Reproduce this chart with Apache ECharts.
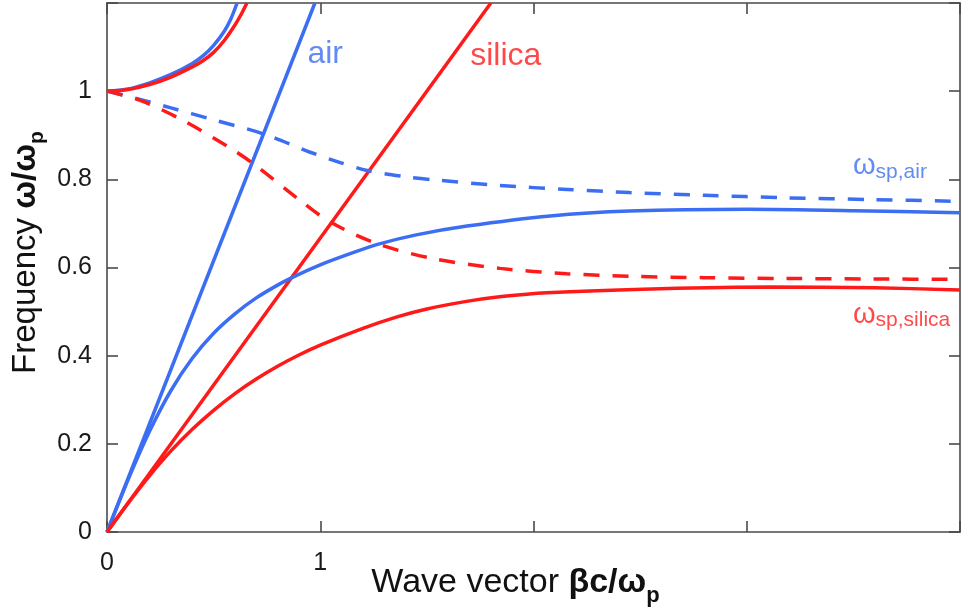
<!DOCTYPE html>
<html>
<head>
<meta charset="utf-8">
<script src="https://cdn.jsdelivr.net/npm/echarts@6/dist/echarts.min.js"></script>
<style>
  html, body { margin: 0; padding: 0; background: #fff; }
  #chart { width: 964px; height: 612px; }
</style>
</head>
<body>
<div id="chart"></div>
<script>
// Axis ticks and their printed labels
const xTickLabels = ['0', '1', '', '', ''];
const yTickLabels = ['0', '0.2', '0.4', '0.6', '0.8', '1', ''];

// Light lines (omega = beta c / n)
const airLight = [[0, 0], [0.975, 1.2]];
const silicaLight = [[0, 0], [1.8, 1.2]];

// Upper (bulk-like) branches above omega_p
const airUpper = [[0, 1.0], [0.1, 1.005], [0.2, 1.019], [0.3, 1.038], [0.4, 1.063], [0.45, 1.08],
  [0.5, 1.104], [0.55, 1.136], [0.58, 1.163], [0.61, 1.2]];
const silicaUpper = [[0, 1.0], [0.1, 1.004], [0.2, 1.015], [0.3, 1.032], [0.4, 1.055], [0.45, 1.069],
  [0.5, 1.088], [0.55, 1.115], [0.6, 1.15], [0.63, 1.175], [0.656, 1.2]];

// Surface plasmon branches (solid)
const airSpp = [[0, 0], [0.1, 0.12], [0.2, 0.229], [0.3, 0.321], [0.4, 0.394], [0.5, 0.451], [0.6, 0.495],
  [0.7, 0.531], [0.8, 0.56], [0.867, 0.577], [1.0, 0.606], [1.15, 0.633], [1.273, 0.653], [1.45, 0.674],
  [1.688, 0.694], [2.078, 0.717], [2.45, 0.728], [3.0, 0.732], [3.5, 0.729], [4.0, 0.724]];
const silicaSpp = [[0, 0], [0.1, 0.066], [0.2, 0.128], [0.3, 0.184], [0.4, 0.233], [0.5, 0.276],
  [0.6, 0.314], [0.7, 0.347], [0.8, 0.376], [0.9, 0.4015], [1.0, 0.424], [1.2, 0.462], [1.36, 0.488],
  [1.5, 0.506], [1.672, 0.522], [1.85, 0.534], [2.063, 0.543], [2.594, 0.552], [3.11, 0.556],
  [3.6, 0.554], [4.0, 0.549]];

// Quasi-static branches (dashed)
const airQs = [[0, 1.0], [0.15, 0.982], [0.3, 0.962], [0.5, 0.935], [0.734, 0.903], [0.95, 0.862],
  [1.094, 0.838], [1.22, 0.82], [1.4, 0.806], [1.53, 0.799], [1.84, 0.786], [2.16, 0.777],
  [2.45, 0.77], [2.8, 0.764], [3.19, 0.758], [3.6, 0.754], [4.0, 0.75]];
const silicaQs = [[0, 1.0], [0.156, 0.979], [0.359, 0.933], [0.594, 0.866], [0.687, 0.835], [0.906, 0.752],
  [1.047, 0.703], [1.266, 0.654], [1.531, 0.62], [1.844, 0.598], [2.156, 0.586], [2.453, 0.58],
  [2.8, 0.577], [3.19, 0.575], [3.6, 0.574], [4.0, 0.573]];

// Curve annotations: left edge anchor in data units
const annoX = [0.94, 1.703, 3.498, 3.498];
const annoY = [1.084, 1.08, 0.83, 0.493];
const annoText = ['air', 'silica', '{w|ω}{s|sp,air}', '{w|ω}{s|sp,silica}'];

const BLUE = '#3b6ef2';
const RED = '#ff1a1a';
const annoColor = [BLUE, RED, BLUE, RED];
const FONT = 'Liberation Sans, Arial, sans-serif';
const AXIS = '#4a4a4a';

const chart = echarts.init(document.getElementById('chart'), null, { renderer: 'canvas' });

function line(data, color, dashed) {
  return {
    type: 'line',
    data: data,
    xAxisIndex: 0,
    yAxisIndex: 0,
    showSymbol: false,
    symbol: 'none',
    smooth: 0.3,
    clip: true,
    silent: true,
    lineStyle: { color: color, width: 3.5, type: dashed ? [16, 13] : 'solid', cap: 'butt' },
    z: 3
  };
}

const frameAxisLine = { show: true, onZero: false, lineStyle: { color: AXIS, width: 1.6 } };
const frameTick = { show: true, inside: true, length: 11, lineStyle: { color: AXIS, width: 1.6 } };

const option = {
  backgroundColor: '#ffffff',
  animation: false,
  grid: { left: 107, right: 4, top: 3, bottom: 80, containLabel: false, outerBoundsMode: 'none' },
  xAxis: [
    {
      type: 'value', position: 'bottom', min: 0, max: 4, interval: 1,
      axisLine: frameAxisLine, axisTick: frameTick, splitLine: { show: false },
      axisLabel: {
        formatter: (v, i) => xTickLabels[i] || '',
        fontSize: 25, color: '#1a1a1a', fontFamily: FONT, margin: 19
      },
      name: '{n|Wave vector }{b|βc/ω}{s|p}',
      nameLocation: 'middle', nameGap: 27, nameMoveOverlap: false,
      nameTextStyle: {
        padding: [0, 36, 0, 0],
        rich: {
          n: { fontSize: 34, fontFamily: FONT, color: '#111' },
          b: { fontSize: 34, fontFamily: FONT, color: '#111', fontWeight: 'bold' },
          s: { fontSize: 22, fontFamily: FONT, color: '#111', fontWeight: 'bold', padding: [26, 0, 0, 0] }
        }
      }
    },
    {
      type: 'value', position: 'top', min: 0, max: 4, interval: 1,
      axisLine: frameAxisLine, axisTick: frameTick, splitLine: { show: false },
      axisLabel: { show: false }
    }
  ],
  yAxis: [
    {
      type: 'value', position: 'left', min: 0, max: 1.2, interval: 0.2,
      axisLine: frameAxisLine, axisTick: frameTick, splitLine: { show: false },
      axisLabel: {
        formatter: (v, i) => yTickLabels[i] || '',
        fontSize: 25, color: '#1a1a1a', fontFamily: FONT, margin: 15
      },
      name: '{n|Frequency }{b|ω/ω}{s|p}',
      nameLocation: 'middle', nameGap: 59, nameRotate: 90, nameMoveOverlap: false,
      nameTextStyle: {
        padding: [0, 0, 0, 30],
        rich: {
          n: { fontSize: 33, fontFamily: FONT, color: '#111' },
          b: { fontSize: 33, fontFamily: FONT, color: '#111', fontWeight: 'bold' },
          s: { fontSize: 21, fontFamily: FONT, color: '#111', fontWeight: 'bold', padding: [24, 0, 0, 0] }
        }
      }
    },
    {
      type: 'value', position: 'right', min: 0, max: 1.2, interval: 0.2,
      axisLine: frameAxisLine, axisTick: frameTick, splitLine: { show: false },
      axisLabel: { show: false }
    }
  ],
  series: [
    line(airLight, BLUE, false),
    line(silicaLight, RED, false),
    line(airUpper, BLUE, false),
    line(silicaUpper, RED, false),
    line(airSpp, BLUE, false),
    line(silicaSpp, RED, false),
    line(airQs, BLUE, true),
    line(silicaQs, RED, true),
    {
      type: 'scatter',
      xAxisIndex: 0, yAxisIndex: 0,
      symbolSize: 0,
      silent: true,
      z: 5,
      data: annoX.map((x, i) => ({
        value: [x, annoY[i]],
        label: {
          show: true,
          position: 'right',
          distance: 0,
          formatter: annoText[i],
          color: annoColor[i],
          fontFamily: FONT,
          fontSize: 32,
          rich: {
            w: { fontSize: 29, fontFamily: FONT, color: annoColor[i] },
            s: { fontSize: 21, fontFamily: FONT, color: annoColor[i], padding: [12, 0, 0, 0] }
          }
        }
      }))
    }
  ]
};

chart.setOption(option);
</script>
</body>
</html>
